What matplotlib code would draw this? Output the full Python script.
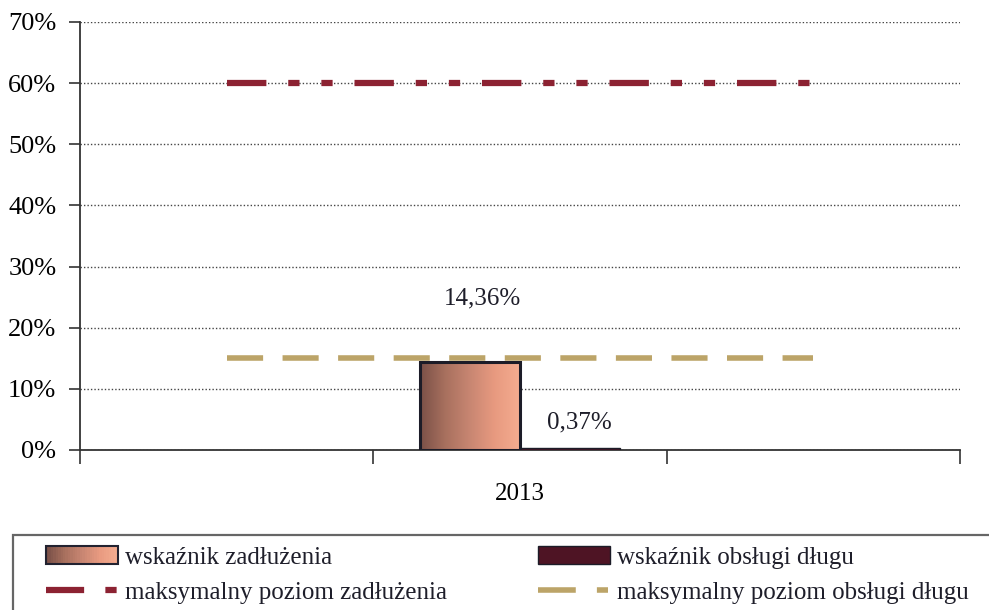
import numpy as np
import matplotlib.pyplot as plt
import matplotlib.patches as mpatches
from matplotlib.lines import Line2D
from matplotlib.legend_handler import HandlerBase

plt.rcParams['font.family'] = ['Liberation Serif', 'DejaVu Serif']
plt.rcParams['font.size'] = 18
plt.rcParams['text.color'] = '#1e1e2a'

# data
categories = ['', '2013', '']
debt_ratio = [np.nan, 14.36, np.nan]
service_ratio = [np.nan, 0.37, np.nan]
max_debt = [60, 60, 60]
max_service = [15, 15, 15]
debt_labels = ['', '14,36%', '']
service_labels = ['', '0,37%', '']

grad_colors = ['#7a5048', '#a8705e', '#c88672', '#e89a80', '#f4ac90']
dark_bar = '#4e1424'
red_line = '#8c2232'
tan_line = '#bca468'
cmap = plt.matplotlib.colors.LinearSegmentedColormap.from_list('g', grad_colors)


class GradientHandler(HandlerBase):
    def create_artists(self, legend, orig_handle, xdescent, ydescent,
                       width, height, fontsize, trans):
        n = 30
        arts = []
        for i in range(n):
            r = mpatches.Rectangle((-xdescent + width * i / n, -ydescent), width / n + 0.3, height,
                                   facecolor=cmap(i / (n - 1)), edgecolor='none', transform=trans)
            arts.append(r)
        frame = mpatches.Rectangle((-xdescent, -ydescent), width, height, facecolor='none',
                                   edgecolor='#222230', linewidth=1.5, transform=trans)
        arts.append(frame)
        return arts


fig = plt.figure(figsize=(9.89, 6.10), dpi=100)
ax = fig.add_axes([80 / 989, 1 - 450 / 610, 880 / 989, 428 / 610])

x = np.arange(len(categories))
w = 0.34

bars = ax.bar(x - w / 2, debt_ratio, w, facecolor='none', edgecolor='#1c1c28', linewidth=2.2, zorder=4)
# gradient fill inside the first bar
grad = np.linspace(0, 1, 200).reshape(1, -1)
for b in bars:
    if b.get_height() > 0:
        x0, y0 = b.get_x(), b.get_y()
        im = ax.imshow(grad, cmap=cmap, aspect='auto', extent=[x0, x0 + b.get_width(), y0, y0 + b.get_height()],
                       zorder=3)
        im.set_clip_path(b)
ax.bar(x + w / 2, service_ratio, w, color=dark_bar, edgecolor='#1c1c28', linewidth=1, zorder=3)

ax.plot(x, max_debt, color=red_line, linewidth=4.5, dashes=(6.3, 3.5, 1.8, 3.5, 1.8, 3.5), zorder=5)
ax.plot(x, max_service, color=tan_line, linewidth=4, dashes=(6.5, 3.5), zorder=5)

for xi, v, lab in zip(x, debt_ratio, debt_labels):
    if lab:
        ax.annotate(lab, (xi - w / 2, v), xytext=(9, 38), textcoords='offset points',
                    ha='center', va='bottom', fontsize=18)
for xi, v, lab in zip(x, service_ratio, service_labels):
    if lab:
        ax.annotate(lab, (xi + w / 2, v), xytext=(7, 10), textcoords='offset points',
                    ha='center', va='bottom', fontsize=18)

ax.set_xlim(-0.5, 2.5)
ax.set_ylim(0, 70)
ax.set_yticks(range(0, 71, 10))
ax.set_yticklabels([f'{v}%' for v in range(0, 71, 10)], fontsize=19)
ax.set_xticks([-0.5, 0.5, 1.5, 2.5])
ax.set_xticklabels([])
ax.set_xticks(x, minor=True)
ax.set_xticklabels(categories, minor=True, fontsize=18)
ax.tick_params(axis='x', which='major', length=10, width=1.2, color='#333')
ax.tick_params(axis='x', which='minor', length=0, pad=24)
ax.tick_params(axis='y', length=8, width=1.2, color='#333', pad=9)

for s in ['top', 'right']:
    ax.spines[s].set_visible(False)
for s in ['left', 'bottom']:
    ax.spines[s].set_color('#333')
    ax.spines[s].set_linewidth(1.3)
ax.yaxis.grid(True, linestyle=(0, (1, 1.5)), color='#444', linewidth=1)
ax.set_axisbelow(True)

handles = [
    mpatches.Patch(label='wskaźnik zadłużenia'),
    Line2D([], [], color=red_line, linewidth=4.5, dashes=(6.1, 3.4, 1.8, 10), label='maksymalny poziom zadłużenia'),
    mpatches.Patch(facecolor=dark_bar, edgecolor='#1c1c28', label='wskaźnik obsługi długu'),
    Line2D([], [], color=tan_line, linewidth=4, dashes=(6.8, 3.8, 2, 10), label='maksymalny poziom obsługi długu'),
]
leg = fig.legend(handles=handles, ncol=2, loc='upper left', bbox_to_anchor=(46 / 989, 1 - 546 / 610),
                 handler_map={handles[0]: GradientHandler()}, handlelength=2.9, handleheight=0.75,
                 columnspacing=3.6, labelspacing=0.5, handletextpad=0.28, borderpad=0,
                 borderaxespad=0, frameon=False, fontsize=18)

# legend frame, running past the right and bottom edges as in the source
fig.add_artist(mpatches.Rectangle((13 / 989, -0.1), 1.1, 1.1 - 535 / 610, transform=fig.transFigure,
                                  facecolor='none', edgecolor='#666', linewidth=1.6))

fig.savefig('out.png', dpi=100, facecolor='white')
